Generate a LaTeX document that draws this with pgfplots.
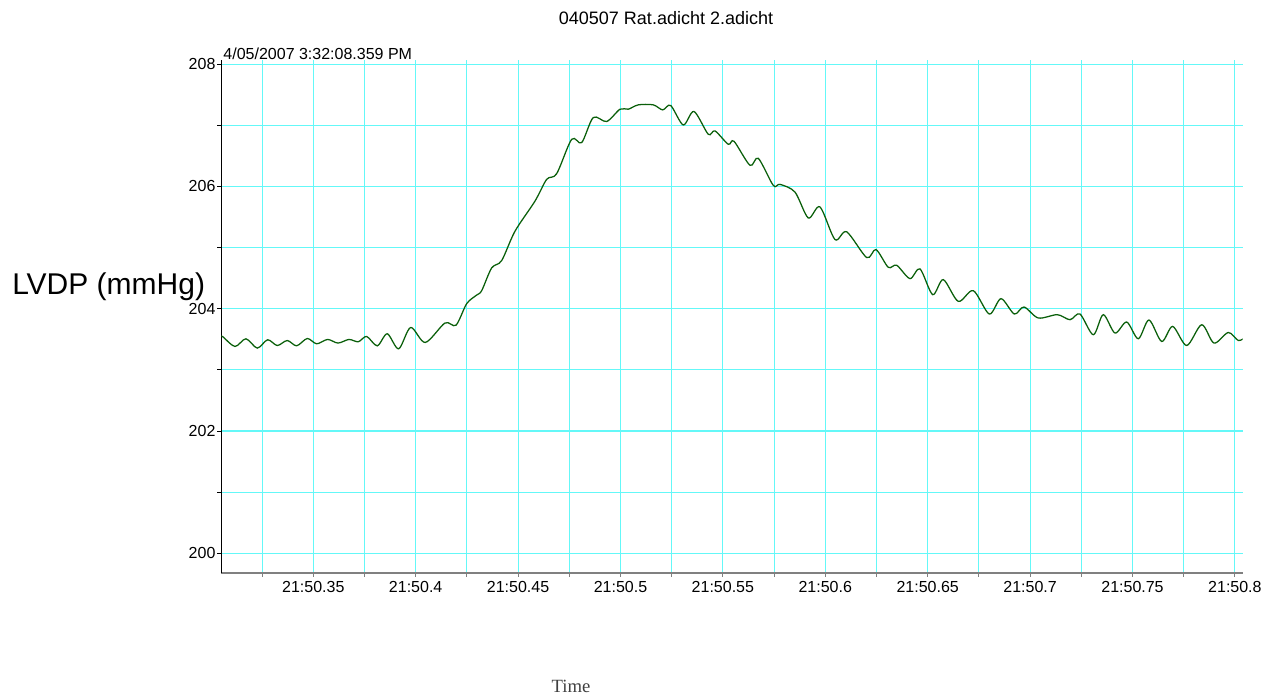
\documentclass[border=0pt]{standalone}
\usepackage{fontspec}
\setmainfont{Liberation Sans}
\newfontfamily\timefont{Liberation Serif}
\usepackage{pgfplots}
\pgfplotsset{compat=1.18}
\definecolor{gridcyan}{RGB}{100,248,248}
\definecolor{trace}{RGB}{10,95,10}
\definecolor{axgray}{RGB}{128,128,128}
\begin{document}
\begin{tikzpicture}
\begin{axis}[
  at={(0,0)}, anchor=south west,
  width=765.8pt, height=384.2pt,
  scale only axis,
  xmin=0.30518, xmax=0.80376,
  ymin=199.683, ymax=208.06,
  axis x line*=bottom, axis y line*=left,
  x axis line style={axgray, line width=1.5pt, -},
  y axis line style={black, line width=0.75pt, -},
  xtick={0.35,0.4,0.45,0.5,0.55,0.6,0.65,0.7,0.75,0.8},
  xticklabels={21:50.35,21:50.4,21:50.45,21:50.5,21:50.55,21:50.6,21:50.65,21:50.7,21:50.75,21:50.8},
  minor xtick={0.325,0.375,0.425,0.475,0.525,0.575,0.625,0.675,0.725,0.775},
  ytick={200,202,204,206,208},
  minor ytick={201,203,205,207},
  tick align=outside,
  major tick length=3pt, minor tick length=3pt,
  xtick style={axgray, line width=0.75pt},
  ytick style={black, line width=0.75pt},
  grid=both,
  major grid style={gridcyan, line width=0.8pt},
  minor grid style={gridcyan, line width=0.8pt},
  tick label style={font=\fontsize{12}{14}\selectfont, black},
  yticklabel style={xshift=2pt},
  /pgf/number format/assume math mode=true,
]
\addplot[trace, line width=0.95pt, smooth] coordinates {
(0.30518,203.55) (0.30605,203.536) (0.31177,203.382) (0.31714,203.508) (0.32266,203.356)
(0.32773,203.492) (0.33242,203.398) (0.33730,203.480) (0.34189,203.393) (0.34707,203.513)
(0.35166,203.426) (0.35703,203.497) (0.36206,203.438) (0.36743,203.497) (0.37197,203.459)
(0.37607,203.546) (0.38125,203.393) (0.38613,203.590) (0.39170,203.344) (0.39756,203.693)
(0.40469,203.448) (0.41431,203.766) (0.41968,203.730) (0.42490,204.082) (0.42969,204.221)
(0.43223,204.295) (0.43711,204.667) (0.44199,204.787) (0.44849,205.267) (0.45825,205.759)
(0.46397,206.115) (0.46885,206.208) (0.47617,206.770) (0.48106,206.716) (0.48672,207.126)
(0.49326,207.061) (0.49976,207.262) (0.50381,207.262) (0.50869,207.333) (0.51602,207.333)
(0.52061,207.251) (0.52451,207.323) (0.53066,207.005) (0.53589,207.225) (0.54287,206.852)
(0.54614,206.907) (0.55264,206.689) (0.55542,206.738) (0.56324,206.344) (0.56729,206.459)
(0.57461,206.016) (0.57788,206.033) (0.58520,205.907) (0.59170,205.484) (0.59741,205.664)
(0.60474,205.131) (0.61045,205.257) (0.62022,204.836) (0.62476,204.967) (0.63076,204.677)
(0.63486,204.710) (0.64136,204.492) (0.64624,204.651) (0.65244,204.230) (0.65762,204.475)
(0.66494,204.120) (0.67227,204.295) (0.68008,203.913) (0.68579,204.164) (0.69229,203.913)
(0.69703,204.028) (0.70400,203.848) (0.71328,203.902) (0.71948,203.820) (0.72436,203.913)
(0.73086,203.574) (0.73574,203.902) (0.74145,203.602) (0.74717,203.782) (0.75283,203.508)
(0.75806,203.815) (0.76426,203.464) (0.76963,203.710) (0.77647,203.398) (0.78379,203.738)
(0.78979,203.438) (0.79678,203.611) (0.80166,203.480) (0.80493,203.530)
};
\end{axis}
\node[anchor=center, font=\fontsize{13.5}{15}\selectfont] at (333.4pt,416pt) {040507 Rat.adicht 2.adicht};
\node[anchor=base west, inner sep=0pt, font=\fontsize{12}{14}\selectfont] at (1.3pt,384.6pt) {4/05/2007 3:32:08.359 PM};
\node[anchor=base west, inner sep=0pt, font=\fontsize{22.5}{26}\selectfont] at (-157.1pt,208.3pt) {LVDP (mmHg)};
\node[anchor=base, inner sep=0pt, text=black!75, font=\timefont\fontsize{14}{16}\selectfont] at (262.1pt,-90.2pt) {Time};
\path[use as bounding box] (-166.1pt,-93.2pt) rectangle (790.1pt,429.5pt);
\end{tikzpicture}
\end{document}
